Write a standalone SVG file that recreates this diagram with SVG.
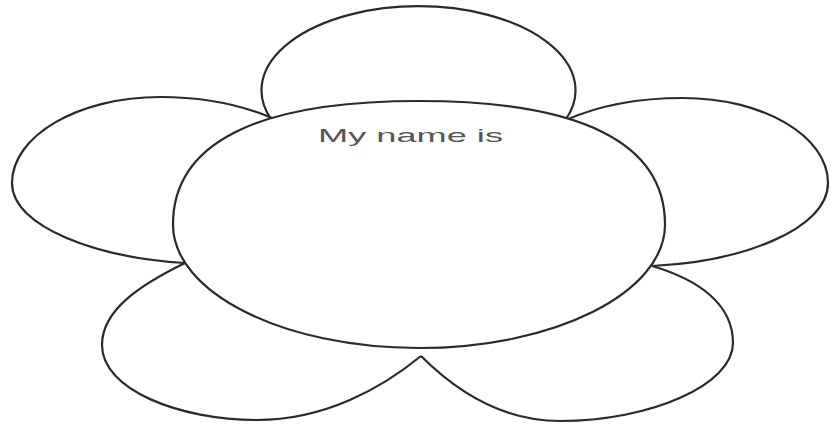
<svg xmlns="http://www.w3.org/2000/svg" width="831" height="427" viewBox="0 0 831 427">
<style>
.petal{fill:#fff;stroke:#2a2a2a;stroke-width:2.2;stroke-linejoin:round}
.label{font-family:"Liberation Sans",Arial,sans-serif;font-size:19px;fill:#555}
</style>
<rect width="831" height="427" fill="#fff"/>
<g id="petal-top"><path class="petal" d="M271,119 A157,84 0 1 1 566,119"/></g>
<g id="petal-left"><path class="petal" d="M272,118 C232,101 195,97 160,97 C78,97 12,136 12,183 C12,228 100,258 185,263"/></g>
<g id="petal-right"><path class="petal" d="M566,120 C600,105 640,98 683,98 C763,98 828,136 828,183 C828,230 740,262 652,266"/></g>
<g id="petal-bottom-left"><path class="petal" d="M185,263 C140,285 102,310 102,345 C102,390 180,420 257,420 C325,420 382,388 421,356"/></g>
<g id="petal-bottom-right"><path class="petal" d="M421,356 C455,390 500,421 560,421 C650,421 733,385 733,343 C733,305 700,280 652,266"/></g>
<g id="center">
<path class="petal" d="M419,101 C256.6,101 173,143 173,224.5 C173,292.7 283,348 419,348 C555,348 665,292.7 665,224.5 C665,143 581.4,101 419,101 Z"/>
<text class="label" x="318" y="142" textLength="185" lengthAdjust="spacingAndGlyphs">My name is</text>
</g>
</svg>
